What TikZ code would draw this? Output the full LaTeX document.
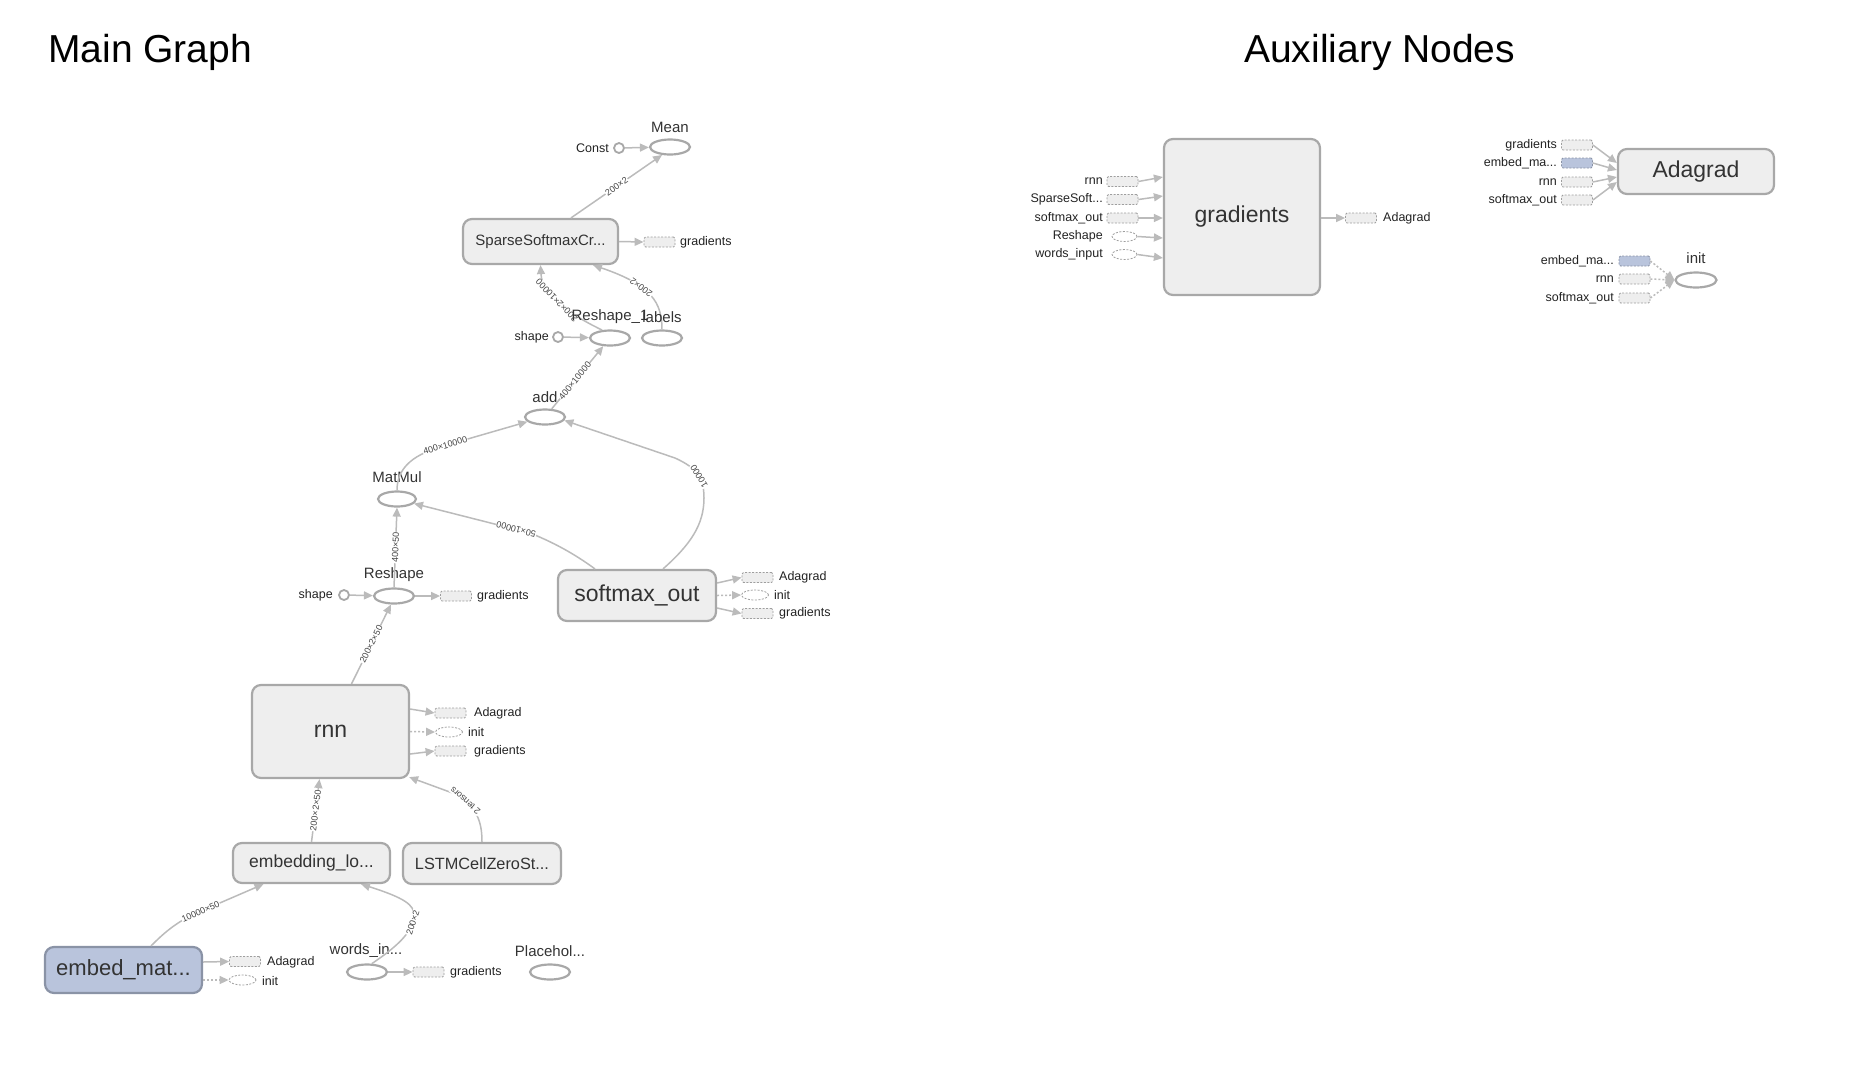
\documentclass[tikz,border=0pt]{standalone}
\usepackage{fontspec}
\setmainfont{Liberation Sans}
\usetikzlibrary{arrows.meta,shapes.geometric}
\definecolor{boxfill}{HTML}{EEEEEE}
\definecolor{boxborder}{HTML}{A8A8A8}
\definecolor{edgecol}{HTML}{BBBBBB}
\definecolor{stubfill}{HTML}{EEEEEE}
\definecolor{stubborder}{HTML}{9E9E9E}
\definecolor{bluefill}{HTML}{B9C4DC}
\definecolor{blueborder}{HTML}{8A93A6}
\definecolor{txt}{HTML}{333333}
\definecolor{txtdark}{HTML}{222222}
\definecolor{elabcol}{HTML}{444444}
\tikzset{
 opbox/.style={draw=boxborder, fill=boxfill, line width=2.2pt, rounded corners=9pt, inner sep=0pt, text=txt},
 opell/.style={ellipse, draw=boxborder, fill=white, line width=2.2pt, minimum width=40pt, minimum height=15pt, inner sep=0pt},
 cnst/.style={circle, draw=boxborder, fill=white, line width=1.8pt, minimum size=10pt, inner sep=0pt},
 stub/.style={draw=stubborder, fill=stubfill, line width=0.8pt, dash pattern=on 2pt off 1.5pt, minimum width=31pt, minimum height=10pt, inner sep=0pt, rounded corners=1.5pt},
 bstub/.style={stub, fill=bluefill, draw=blueborder},
 stubell/.style={ellipse, draw=stubborder, fill=white, line width=0.8pt, dash pattern=on 2pt off 1.5pt, minimum width=27pt, minimum height=10pt, inner sep=0pt},
 lbl/.style={font=\fontsize{12.5}{14}\selectfont, text=txtdark, inner sep=0pt},
 nlbl/.style={font=\fontsize{15}{17}\selectfont, text=txt, inner sep=0pt},
 conn/.style={draw=edgecol, line width=1.5pt, -{Triangle[length=9pt,width=8pt]}},
 ctrl/.style={conn, dash pattern=on 2pt off 2pt},
 elab/.style={font=\fontsize{9}{10}\selectfont, text=elabcol, fill=white, inner sep=0.6pt, sloped, allow upside down},
 ttl/.style={anchor=base west, font=\fontsize{39}{44}\selectfont, text=black, inner sep=0pt},
}
\begin{document}
\begin{tikzpicture}[x=1pt,y=-1pt]
\useasboundingbox (0,0) rectangle (1856,1088);
% titles
\node[ttl] (t1) at (48,62) {Main Graph};
\node[ttl] (t2) at (1244,62) {Auxiliary Nodes};

% ---------- main graph nodes ----------
\node[opell] (mean) at (670,147) {};
\node[nlbl] (meanl) at (670,127) {Mean};
\node[cnst] (const) at (619,148) {};
\node[lbl, anchor=east] (constl) at (609,148) {Const};

\node[opbox, minimum width=155pt, minimum height=45pt, font=\fontsize{15}{17}\selectfont] (sparse) at (540.5,241.5) {SparseSoftmaxCr...};
\node[stub] (sgrad) at (659.5,242) {};
\node[lbl, anchor=west] (sgradl) at (680,242) {gradients};

\node[opell] (resh1) at (610,338) {};
\node[opell] (labels) at (662,338) {};
\node[cnst] (shape1) at (558,337) {};
\node[lbl, anchor=east] (shape1l) at (549,337) {shape};

\node[opell] (add) at (545,417) {};
\node[nlbl] (addl) at (545,397) {add};

\node[opell, minimum width=38pt] (matmul) at (397,499) {};
\node[nlbl] (matmull) at (397,477) {MatMul};

\node[opell] (resh) at (394,596) {};
\node[nlbl] (reshl) at (394,575) {Reshape};
\node[cnst] (shape2) at (344,595) {};
\node[lbl, anchor=east] (shape2l) at (333,595) {shape};
\node[stub] (rgrad) at (456,596) {};
\node[lbl, anchor=west] (rgradl) at (477,596) {gradients};

\node[opbox, minimum width=158pt, minimum height=51pt, font=\fontsize{23}{26}\selectfont] (softmax) at (637,595.5) {softmax\_out};
\node[stub] (sAda) at (757.5,577.5) {};
\node[stubell] (sInit) at (755,595) {};
\node[stub] (sGrad) at (757.5,613.5) {};
\node[lbl, anchor=west] (sAdal) at (779,577.5) {Adagrad};
\node[lbl, anchor=west] (sInitl) at (774,595) {init};
\node[lbl, anchor=west] (sGradl) at (779,613.5) {gradients};

\node[opbox, minimum width=157pt, minimum height=93pt, font=\fontsize{23}{26}\selectfont] (rnn) at (330.5,731.5) {rnn};
\node[stub] (rAda) at (450.5,713) {};
\node[stubell] (rInit) at (449,732) {};
\node[stub] (rGrad) at (450.5,751) {};
\node[lbl, anchor=west] (rAdal) at (474,713) {Adagrad};
\node[lbl, anchor=west] (rInitl) at (468,732) {init};
\node[lbl, anchor=west] (rGradl) at (474,751) {gradients};

\node[opbox, minimum width=157pt, minimum height=40pt, font=\fontsize{17.5}{20}\selectfont] (emb) at (311.5,863) {embedding\_lo...};
\node[opbox, minimum width=158pt, minimum height=41pt, font=\fontsize{16.3}{19}\selectfont] (lstm) at (482,863.5) {LSTMCellZeroSt...};

\node[opbox, fill=bluefill, draw=blueborder, minimum width=157pt, minimum height=46pt, font=\fontsize{22}{25}\selectfont] (embed) at (123.5,970) {embed\_mat...};
\node[stub] (eAda) at (245,961.5) {};
\node[stubell] (eInit) at (242.5,980) {};
\node[lbl, anchor=west] (eAdal) at (267,962) {Adagrad};
\node[lbl, anchor=west] (eInitl) at (262,981) {init};

\node[opell] (words) at (367,972) {};
\node[nlbl] (wordsl) at (366,951) {words\_in...};
\node[stub] (wGrad) at (428.5,972) {};
\node[lbl, anchor=west] (wGradl) at (450,972) {gradients};

\node[opell] (ph) at (550,972) {};
\node[nlbl] (phl) at (550,951) {Placehol...};

% ---------- main graph edges ----------
\draw[conn] ([xshift=30.5pt]sparse.north) -- node[elab, pos=0.5] {200×2} (mean.225);
\draw[conn] (const) -- (mean);
\draw[conn] (sparse.east) -- (sgrad.west);
\draw[conn] (resh1.135) .. controls (565,312) and (542,294) .. node[elab, pos=0.52] {200×2×10000} (sparse.south);
\draw[conn] (labels.north) .. controls (662,303) and (652,285) .. node[elab, pos=0.62] {200×2} ([xshift=52.5pt]sparse.south);
\draw[conn] (shape1) -- (resh1);
\draw[conn] (add) -- node[elab, pos=0.45] {400×10000} (resh1);
\draw[conn] (matmul.north) .. controls (397,470) and (410,456) .. (440,447) -- node[elab, pos=0.06] {400×10000} (add.195);
\draw[conn] ([xshift=26pt]softmax.north) .. controls (690,545) and (704,525) .. (704,498) .. controls (704,478) and (697,468) .. node[elab, pos=0.45] {10000} (675,458) -- (add.350);
\draw[conn] ([xshift=-42pt]softmax.north) .. controls (580,558) and (560,545) .. (530,533) -- node[elab, pos=0.12] {50×10000} (matmul.345);
\draw[conn] (resh.north) -- node[elab, pos=0.5] {400×50} (matmul.south);
\draw[conn] (shape2) -- (resh);
\draw[conn] (resh) -- (rgrad);
\draw[conn] ([yshift=12.5pt]softmax.east) -- (sAda.west);
\draw[ctrl] (softmax.east) -- (sInit.west);
\draw[conn] ([yshift=-12.5pt]softmax.east) -- (sGrad.west);
\draw[conn] ([xshift=21pt]rnn.north) -- node[elab, pos=0.5] {200×2×50} (resh.250);
\draw[conn] ([yshift=22.5pt]rnn.east) -- (rAda.west);
\draw[ctrl] (rnn.east) -- (rInit.west);
\draw[conn] ([yshift=-22.5pt]rnn.east) -- (rGrad.west);
\draw[conn] (emb.north) -- node[elab, pos=0.5] {200×2×50} ([xshift=-11pt]rnn.south);
\draw[conn] (lstm.north) .. controls (482,820) and (476,808) .. node[elab, pos=0.85] {2 tensors} (458,795) -- ([xshift=-1pt,yshift=2pt]rnn.south east);
\draw[conn] ([xshift=27.5pt]embed.north) .. controls (160,937) and (172,925) .. (192,915) -- node[elab, pos=0.12] {10000×50} ([xshift=-48pt]emb.south);
\draw[conn] ([yshift=8pt]embed.east) -- (eAda.west);
\draw[ctrl] ([yshift=-10pt]embed.east) -- (eInit.west);
\draw[conn] (words.60) .. controls (395,948) and (414,932) .. node[elab, pos=0.85] {200×2} (414,915) .. controls (414,905) and (405,898) .. ([xshift=49.5pt]emb.south);
\draw[conn] (words) -- (wGrad);

% labels of Reshape_1 and labels, drawn over the edges as in the reference
\node[nlbl] (resh1l) at (610,317) {Reshape\_1};
\node[nlbl] (labelsl) at (662,317) {labels};

% ---------- auxiliary: gradients ----------
\node[opbox, minimum width=156pt, minimum height=156pt, font=\fontsize{23}{26}\selectfont] (gbox) at (1242,217) {gradients};
\node[stub] (g1) at (1122.5,181.5) {};
\node[stub] (g2) at (1122.5,199.5) {};
\node[stub] (g3) at (1122.5,218) {};
\node[stubell, minimum width=25pt] (g4) at (1124.5,236.5) {};
\node[stubell, minimum width=25pt] (g5) at (1124.5,254.5) {};
\node[lbl, anchor=east] (g1l) at (1103,181.5) {rnn};
\node[lbl, anchor=east] (g2l) at (1103,199.5) {SparseSoft...};
\node[lbl, anchor=east] (g3l) at (1103,218) {softmax\_out};
\node[lbl, anchor=east] (g4l) at (1103,236.5) {Reshape};
\node[lbl, anchor=east] (g5l) at (1103,254.5) {words\_input};
\node[stub] (gOut) at (1361,218) {};
\node[lbl, anchor=west] (gOutl) at (1383,218) {Adagrad};
\draw[conn] (g1.east) -- ([yshift=40pt]gbox.west);
\draw[conn] (g2.east) -- ([yshift=21pt]gbox.west);
\draw[conn] (g3.east) -- ([yshift=-1pt]gbox.west);
\draw[conn] (g4.east) -- ([yshift=-21pt]gbox.west);
\draw[conn] (g5.east) -- ([yshift=-41pt]gbox.west);
\draw[conn] (gbox.east |- gOut) -- (gOut.west);

% ---------- auxiliary: Adagrad ----------
\node[opbox, minimum width=156pt, minimum height=45pt, font=\fontsize{23}{26}\selectfont] (abox) at (1696,171.5) {Adagrad};
\node[stub] (a1) at (1577,145) {};
\node[bstub] (a2) at (1577,163) {};
\node[stub] (a3) at (1577,182) {};
\node[stub] (a4) at (1577,200) {};
\node[lbl, anchor=east] (a1l) at (1557,145) {gradients};
\node[lbl, anchor=east] (a2l) at (1557,163) {embed\_ma...};
\node[lbl, anchor=east] (a3l) at (1557,182) {rnn};
\node[lbl, anchor=east] (a4l) at (1557,200) {softmax\_out};
\draw[conn] (a1.east) -- ([yshift=8.5pt]abox.west);
\draw[conn] (a2.east) -- ([yshift=1.5pt]abox.west);
\draw[conn] (a3.east) -- ([yshift=-5.5pt]abox.west);
\draw[conn] (a4.east) -- ([yshift=-10.5pt]abox.west);

% ---------- auxiliary: init ----------
\node[opell, minimum width=41pt] (init) at (1696,280) {};
\node[nlbl] (initl) at (1696,258) {init};
\node[bstub] (i1) at (1634.5,261) {};
\node[stub] (i2) at (1634.5,279) {};
\node[stub] (i3) at (1634.5,298) {};
\node[lbl, anchor=east] (i1l) at (1614,261) {embed\_ma...};
\node[lbl, anchor=east] (i2l) at (1614,279) {rnn};
\node[lbl, anchor=east] (i3l) at (1614,298) {softmax\_out};
\draw[ctrl] (i1.east) -- (init.west);
\draw[ctrl] (i2.east) -- (init.west);
\draw[ctrl] (i3.east) -- (init.west);
\end{tikzpicture}
\end{document}
